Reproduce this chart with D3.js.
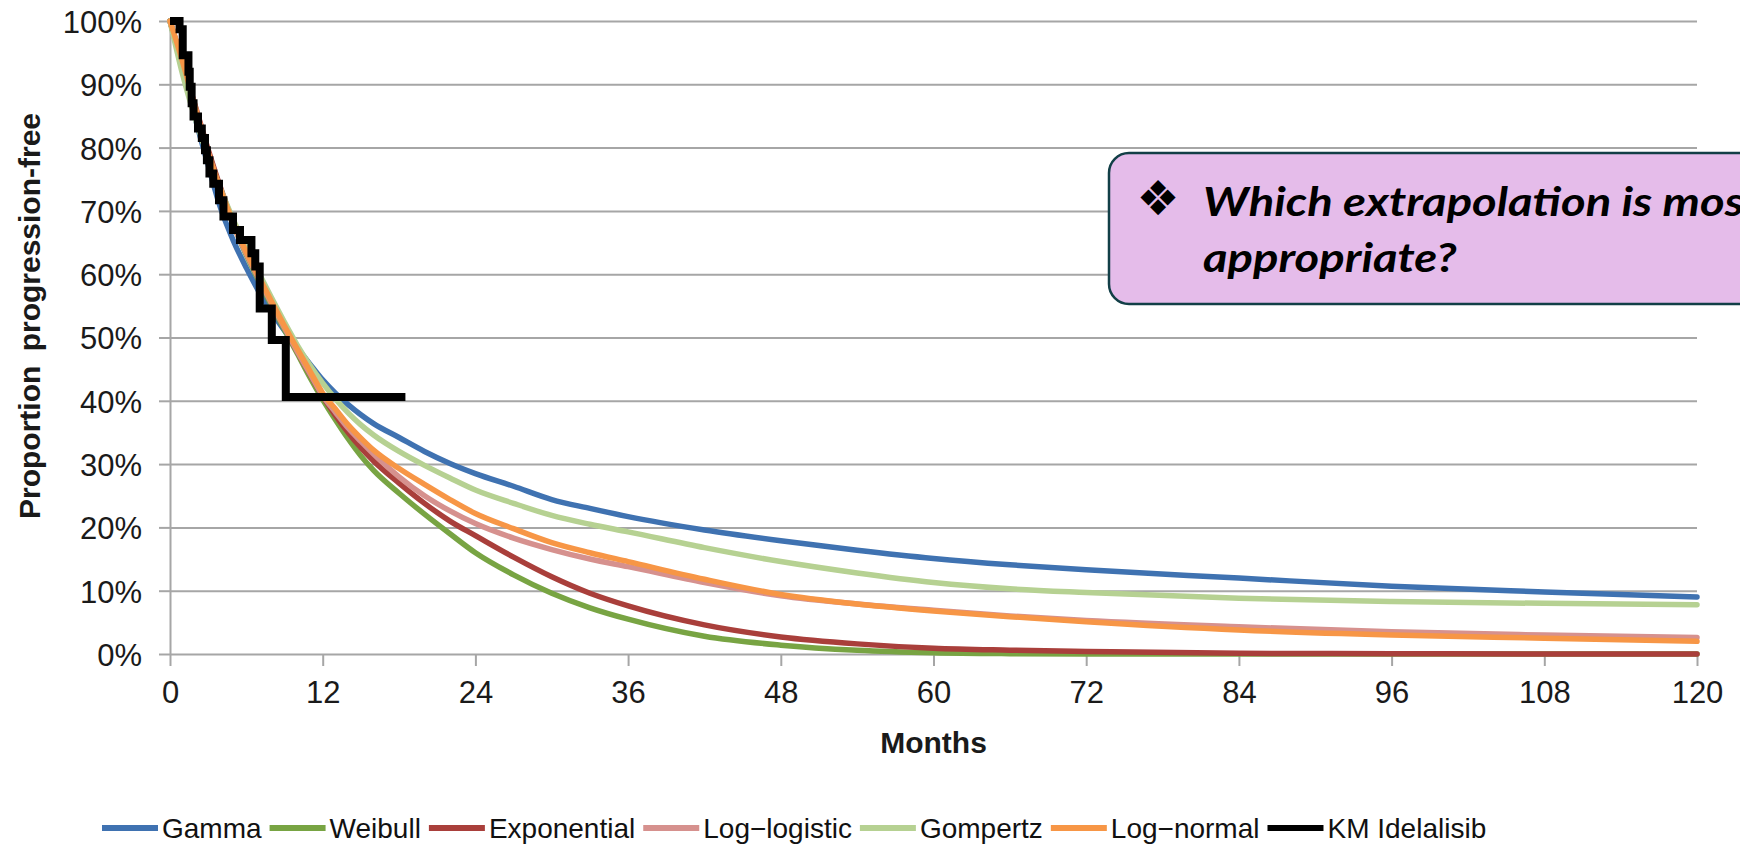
<!DOCTYPE html>
<html>
<head>
<meta charset="utf-8">
<script src="https://cdn.jsdelivr.net/npm/d3@7"></script>
<style>
  html, body { margin: 0; padding: 0; background: #fff; overflow: hidden; }
  svg { display: block; }
</style>
</head>
<body>
<svg id="chart" width="1740" height="851"></svg>
<script>
// ---- data -------------------------------------------------------------
// Month grid on which the parametric survival curves are tabulated
const months = [0, 1, 2, 3, 4, 5, 6, 7, 8, 9, 10, 11, 12, 13, 14, 15, 16, 18, 20, 22, 24,
                27, 30, 33, 36, 42, 48, 54, 60, 66, 72, 84, 96, 108, 120];

// Proportion progression-free for each fitted distribution
const gamma       = [1, .925, .845, .772, .703, .652, .610, .572, .540, .511, .484, .458, .433, .412, .394, .378, .364, .342, .320, .301, .285,
                     .265, .244, .230, .217, .196, .179, .164, .151, .141, .133, .120, .107, .098, .090];
const weibull     = [1, .930, .860, .792, .730, .677, .630, .589, .550, .512, .475, .437, .402, .370, .340, .313, .290, .254, .221, .190, .160,
                     .125, .096, .073, .055, .028, .014, .006, .002, .0005, 0, 0, 0, 0, 0];
const exponential = [1, .932, .865, .797, .735, .680, .635, .594, .555, .516, .478, .442, .407, .377, .350, .326, .305, .270, .238, .210, .187,
                     .153, .122, .096, .076, .046, .027, .016, .009, .006, .004, .001, .0005, 0, 0];
const logLogistic = [1, .933, .862, .792, .730, .677, .632, .592, .553, .515, .478, .443, .408, .382, .357, .336, .316, .280, .250, .226, .206,
                     .183, .165, .150, .138, .113, .092, .079, .069, .060, .053, .043, .035, .030, .026];
const gompertz    = [1, .915, .845, .785, .733, .685, .641, .601, .562, .524, .488, .456, .428, .403, .381, .362, .346, .320, .298, .278, .259,
                     .238, .219, .205, .193, .168, .146, .128, .113, .103, .097, .088, .083, .080, .078];
const logNormal   = [1, .935, .862, .792, .732, .680, .635, .595, .556, .518, .482, .447, .412, .387, .362, .341, .322, .293, .268, .244, .222,
                     .198, .176, .160, .146, .118, .094, .079, .068, .059, .051, .038, .030, .025, .020];

// Kaplan-Meier estimate: time of each step and survival after it
const kmMonths   = [0, 0.75, 1.0, 1.45, 1.55, 1.7, 1.85, 2.2, 2.5, 2.75, 2.9, 3.1, 3.4, 3.85, 4.2, 4.95, 5.5, 6.4, 6.7, 7.05, 8.0, 9.1, 18.5];
const kmSurvival = [1, .987, .946, .920, .896, .870, .849, .830, .815, .796, .780, .759, .743, .717, .691, .670, .654, .633, .612, .546, .496, .406, .406];

const seriesLabels = ["Gamma", "Weibull", "Exponential", "Log\u2212logistic", "Gompertz", "Log\u2212normal"];
const seriesValues = [gamma, weibull, exponential, logLogistic, gompertz, logNormal];
const seriesColors = ["#3f72b1", "#78a443", "#a93f3b", "#d6918e", "#b6d192", "#f79646"];
const kmLabel = "KM Idelalisib";
const kmColor = "#000000";

const xTicks = [0, 12, 24, 36, 48, 60, 72, 84, 96, 108, 120];
const yTicks = [0, 0.1, 0.2, 0.3, 0.4, 0.5, 0.6, 0.7, 0.8, 0.9, 1.0];

const xTitle = "Months";
const yTitle = "Proportion progression-free";
const calloutBullet = "\u2756";
const calloutLines = ["Which extrapolation is most", "appropriate?"];

// ---- layout -----------------------------------------------------------
const W = 1740, H = 851;
const plot = { left: 170, right: 1697, top: 21, bottom: 654 };
const labelFont = "'Liberation Sans', Arial, Helvetica, sans-serif";
const gridColor = "#a6a6a6";
const textColor = "#1a1a1a";

const svg = d3.select("#chart");
svg.append("rect").attr("width", W).attr("height", H).attr("fill", "#fff");

const x = d3.scaleLinear().domain([0, 120]).range([plot.left, plot.right]);
const y = d3.scaleLinear().domain([0, 1]).range([plot.bottom, plot.top]);

// horizontal gridlines
const grid = svg.append("g")
  .attr("transform", `translate(${plot.left},0)`)
  .call(d3.axisLeft(y).tickValues(yTicks).tickSizeInner(-(plot.right - plot.left)).tickSizeOuter(0).tickFormat(""));
grid.select(".domain").remove();
grid.selectAll(".tick line").attr("stroke", gridColor).attr("stroke-width", 2);

// y axis: short outer ticks, vertical line and percentage labels
const yAxis = svg.append("g")
  .attr("transform", `translate(${plot.left},0)`)
  .call(d3.axisLeft(y).tickValues(yTicks).tickSize(11).tickSizeOuter(0).tickPadding(17).tickFormat(d3.format(".0%")));
yAxis.attr("font-family", labelFont).attr("font-size", 31);
yAxis.select(".domain").attr("stroke", gridColor).attr("stroke-width", 2);
yAxis.selectAll(".tick line").attr("stroke", gridColor).attr("stroke-width", 2);
yAxis.selectAll(".tick text").attr("fill", textColor).attr("dy", "0.37em");

// x axis: ticks hang below the 0% gridline
const xAxis = svg.append("g")
  .attr("transform", `translate(0,${plot.bottom})`)
  .call(d3.axisBottom(x).tickValues(xTicks).tickSize(12).tickSizeOuter(0).tickPadding(15));
xAxis.attr("font-family", labelFont).attr("font-size", 31);
xAxis.select(".domain").remove();
xAxis.selectAll(".tick line").attr("stroke", gridColor).attr("stroke-width", 2);
xAxis.selectAll(".tick text").attr("fill", textColor);

// axis titles
svg.append("text")
  .attr("transform", `translate(40,316) rotate(-90)`)
  .attr("text-anchor", "middle")
  .attr("font-family", labelFont).attr("font-weight", "bold").attr("font-size", 30)
  .attr("word-spacing", 6)
  .attr("fill", textColor)
  .text(yTitle);

svg.append("text")
  .attr("x", (plot.left + plot.right) / 2).attr("y", 753)
  .attr("text-anchor", "middle")
  .attr("font-family", labelFont).attr("font-weight", "bold").attr("font-size", 30)
  .attr("fill", textColor)
  .text(xTitle);

// fitted curves
const curveLine = d3.line()
  .x(d => x(d[0]))
  .y(d => y(d[1]))
  .curve(d3.curveMonotoneX);

const curves = svg.append("g").attr("fill", "none").attr("stroke-width", 5.5)
  .attr("stroke-linejoin", "round").attr("stroke-linecap", "round");
seriesValues.forEach((vals, i) => {
  curves.append("path")
    .datum(months.map((m, j) => [m, vals[j]]))
    .attr("stroke", seriesColors[i])
    .attr("d", curveLine);
});

// Kaplan-Meier step function on top
const kmLine = d3.line()
  .x(d => x(d[0]))
  .y(d => y(d[1]))
  .curve(d3.curveStepAfter);
svg.append("path")
  .datum(kmMonths.map((m, j) => [m, kmSurvival[j]]))
  .attr("fill", "none")
  .attr("stroke", kmColor)
  .attr("stroke-width", 8)
  .attr("stroke-linejoin", "miter")
  .attr("stroke-linecap", "butt")
  .attr("d", kmLine);

// legend along the bottom
const legendItems = seriesLabels.map((l, i) => ({ label: l, color: seriesColors[i] }))
  .concat([{ label: kmLabel, color: kmColor }]);
const legend = svg.append("g").attr("transform", "translate(102,828)");
let cursor = 0;
const swatch = 56;
legendItems.forEach(item => {
  const g = legend.append("g").attr("transform", `translate(${cursor},0)`);
  g.append("line")
    .attr("x1", 0).attr("x2", swatch).attr("y1", 0).attr("y2", 0)
    .attr("stroke", item.color).attr("stroke-width", 6);
  const t = g.append("text")
    .attr("x", swatch + 4).attr("y", 10)
    .attr("font-family", labelFont).attr("font-size", 28)
    .attr("fill", "#111")
    .text(item.label);
  cursor += swatch + 4 + t.node().getComputedTextLength() + 8;
});

// question callout in the upper right
const callout = svg.append("g");
callout.append("rect")
  .attr("x", 1109).attr("y", 153).attr("width", 700).attr("height", 151)
  .attr("rx", 20).attr("ry", 20)
  .attr("fill", "#e5bcea").attr("stroke", "#123f47").attr("stroke-width", 2.5);
callout.append("text")
  .attr("x", 1158).attr("y", 215)
  .attr("text-anchor", "middle")
  .attr("font-family", "'DejaVu Sans', sans-serif").attr("font-size", 48)
  .attr("fill", "#000")
  .text(calloutBullet);
calloutLines.forEach((line, i) => {
  callout.append("text")
    .attr("transform", `translate(1203,${216 + i * 56}) scale(1.18,1)`)
    .attr("font-family", "Lato, 'Open Sans', sans-serif")
    .attr("font-weight", "bold").attr("font-style", "italic").attr("font-size", 40)
    .attr("fill", "#000")
    .text(line);
});
</script>
</body>
</html>
